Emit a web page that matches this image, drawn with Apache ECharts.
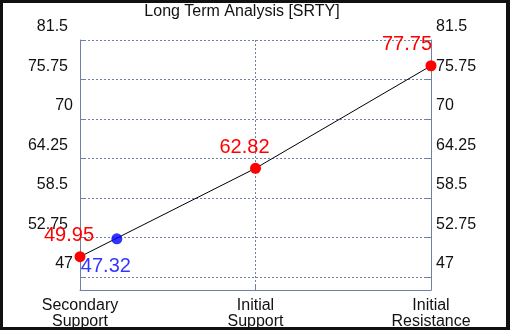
<!DOCTYPE html>
<html>
<head>
<meta charset="utf-8">
<style>
html, body { margin: 0; padding: 0; background: #fff; }
#myChart {
  width: 510px;
  height: 330px;
  box-sizing: border-box;
  border-style: solid;
  border-color: #111;
  border-width: 3px 4px 3px 3px;
}
</style>
<script src="https://cdn.jsdelivr.net/npm/echarts@6/dist/echarts.min.js"></script>
</head>
<body>
<div id="myChart"></div>
<script>
  // data
  var categories = ['Secondary\nSupport', 'Initial\nSupport', 'Initial\nResistance']
  var levels = [49.95, 62.82, 77.75]
  var yTicks = [47, 52.75, 58.5, 64.25, 70, 75.75, 81.5]
  // blue marker: sits on the line, labelled with its own price
  var currentX = [0.21]
  var currentY = [52.55]
  var currentLabel = ['47.32']

  var axisColor = '#6f82a4'
  var labelOffsets = [[-11, -21], [-11, -21], [-24, -21]]
  var fontName = 'Liberation Sans, Arial, sans-serif'

  var myChart = echarts.init(document.getElementById('myChart'), null, { renderer: 'canvas' })

  var yAxisBase = function (pos) {
    var left = pos === 'left'
    return {
      type: 'value',
      position: pos,
      min: 45.1,
      max: 81.5,
      axisLine: { show: true, lineStyle: { color: axisColor, width: 1 } },
      axisTick: { show: true, inside: true, length: 6, customValues: yTicks, lineStyle: { color: axisColor } },
      splitLine: { show: left, lineStyle: { color: axisColor, type: [2, 2], width: 1 } },
      axisLabel: {
        customValues: yTicks,
        interval: 0,
        showMinLabel: true,
        showMaxLabel: true,
        hideOverlap: false,
        color: '#111',
        fontSize: 16,
        // labels sit above their grid line in the original
        verticalAlign: 'bottom',
        lineHeight: 26,
        fontFamily: fontName,
        margin: left ? 7 : 5,
        formatter: function (v) {
          // decimal labels on the left stop a few px short of the integers
          if (left && v % 1 !== 0) return '{d|' + v + '}'
          return String(v)
        },
        rich: {
          d: { fontSize: 16, fontFamily: fontName, color: '#111', lineHeight: 26, padding: [0, 5, 0, 0] }
        }
      }
    }
  }

  var option = {
    animation: false,
    title: {
      text: 'Long Term Analysis [SRTY]',
      left: 234,
      top: -4,
      textAlign: 'center',
      textStyle: { color: '#111', fontSize: 16, fontWeight: 'normal', fontFamily: fontName }
    },
    grid: { left: 77, right: 75, top: 37, bottom: 37, containLabel: false, outerBoundsMode: 'none' },
    xAxis: {
      type: 'value',
      min: 0,
      max: 2,
      interval: 1,
      axisLine: { show: true, lineStyle: { color: axisColor, width: 1 } },
      axisTick: { show: true, inside: true, length: 6, lineStyle: { color: axisColor } },
      splitLine: { show: true, lineStyle: { color: axisColor, type: [2, 2], width: 1 } },
      axisLabel: {
        showMinLabel: true,
        showMaxLabel: true,
        hideOverlap: false,
        color: '#111',
        fontSize: 16,
        lineHeight: 16,
        margin: 8,
        fontFamily: fontName,
        formatter: function (v) { return categories[v] || '' }
      }
    },
    yAxis: [yAxisBase('left'), yAxisBase('right')],
    series: [
      {
        type: 'line',
        data: levels.map(function (v, i) {
          return { value: [i, v], label: { offset: labelOffsets[i] } }
        }),
        lineStyle: { color: '#000', width: 1 },
        symbol: 'circle',
        symbolSize: 11,
        itemStyle: { color: '#ff0000' },
        label: {
          show: true,
          position: 'inside',
          color: '#ff0000',
          fontSize: 20,
          fontFamily: fontName,
          formatter: function (p) { return p.value[1].toFixed(2) }
        },
        z: 3
      },
      {
        type: 'scatter',
        data: currentX.map(function (x, i) { return [x, currentY[i]] }),
        symbol: 'circle',
        symbolSize: 11,
        itemStyle: { color: '#0000ff' },
        label: {
          show: true,
          position: 'inside',
          offset: [-11, 28],
          color: '#0000ff',
          fontSize: 20,
          fontFamily: fontName,
          formatter: function (p) { return currentLabel[p.dataIndex] }
        },
        z: 4
      }
    ]
  }
  myChart.setOption(option)
</script>
</body>
</html>
